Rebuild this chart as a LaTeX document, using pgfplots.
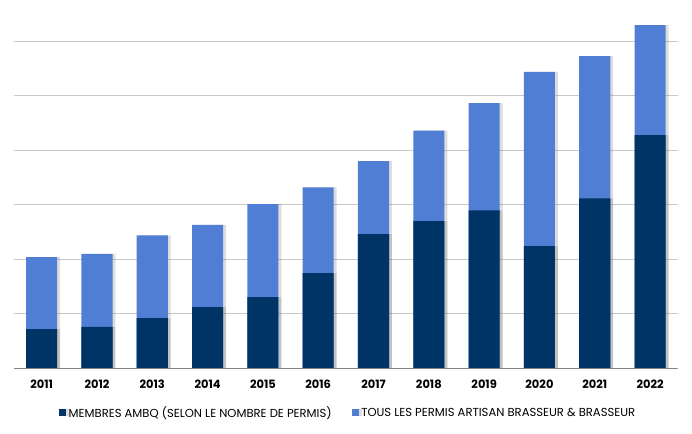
\documentclass[border=0pt]{standalone}
\usepackage{fontspec}
\setmainfont{Poppins}
\usepackage{pgfplots}
\pgfplotsset{compat=1.18}
\usetikzlibrary{shadows}

\definecolor{membres}{RGB}{0,51,102}
\definecolor{permis}{RGB}{80,126,212}
\definecolor{gridgray}{RGB}{200,200,200}
\definecolor{basegray}{RGB}{130,130,130}

% year, all artisan brewer & brewer permits, AMBQ members (by number of permits)
\pgfplotstableread{
x  year  permis  membres
0  2011  102     36
1  2012  105     38
2  2013  122     46
3  2014  131.5   56
4  2015  150.7   65.4
5  2016  166     87.4
6  2017  190     123
7  2018  218     135
8  2019  243.4   145
9  2020  272     112
10 2021  286.5   156
11 2022  315     214
}\brew

\begin{document}
\begin{tikzpicture}
\begin{axis}[
  scale only axis,
  width=497.8pt, height=276.2pt,
  xmin=-0.5, xmax=11.5,
  ymin=0, ymax=338,
  axis line style={draw=none},
  ytick={50,100,...,300},
  yticklabels={},
  ymajorgrids,
  major grid style={gridgray, line width=0.6pt},
  major tick length=0pt,
  xtick=data,
  xticklabels from table={\brew}{year},
  xticklabel style={anchor=base, yshift=-15.4pt, font=\bfseries\fontsize{8.6}{10}\selectfont},
  ybar, bar shift=0pt, bar width=23.3pt,
  legend columns=2,
  reverse legend,
  legend style={draw=none, fill=none, at={(0.504,0)}, anchor=center, yshift=-33.5pt,
    font=\fontsize{8.7}{10}\selectfont,
    /tikz/every even column/.append style={column sep=13pt}},
  legend image code/.code={\fill[#1] (0pt,-2.6pt) rectangle (5.2pt,2.6pt);},
  legend cell align=left,
]
\addplot[fill=permis, draw=none,
  drop shadow={shadow xshift=2.2pt, shadow yshift=0pt, opacity=0.22, fill=black!60}]
  table[x=x, y=permis] {\brew};
\addlegendentry{TOUS LES PERMIS ARTISAN BRASSEUR \& BRASSEUR}
\addplot[fill=membres, draw=none,
  drop shadow={shadow xshift=2.2pt, shadow yshift=0pt, opacity=0.22, fill=black!60}]
  table[x=x, y=membres] {\brew};
\addlegendentry{MEMBRES AMBQ (SELON LE NOMBRE DE PERMIS)}
\draw[basegray, line width=0.8pt] (rel axis cs:0,0) -- (rel axis cs:1,0);
\end{axis}
\pgfresetboundingbox
\path (-10.5pt,-49.3pt) rectangle (508.5pt,276.2pt);
\end{tikzpicture}
\end{document}
